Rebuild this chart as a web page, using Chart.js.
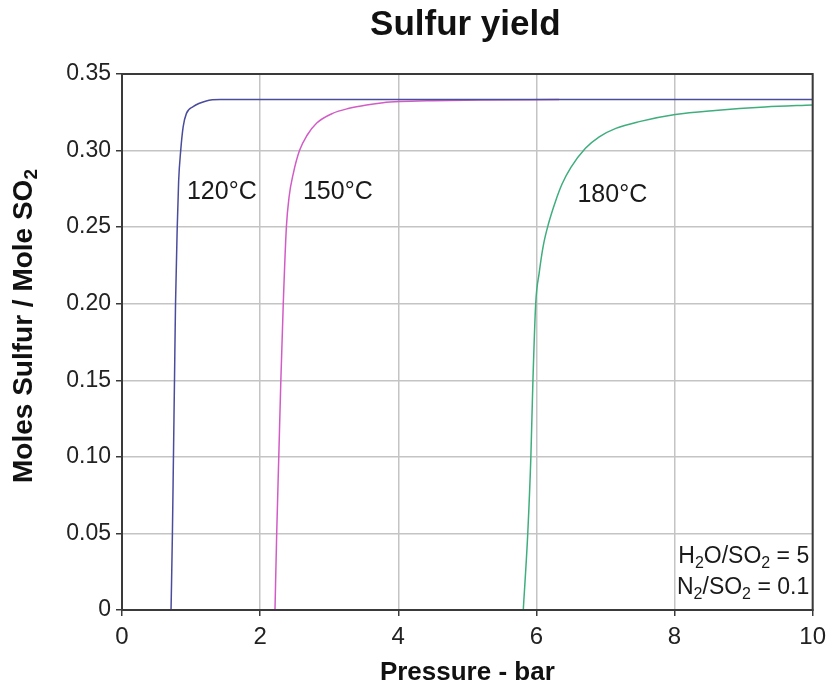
<!DOCTYPE html>
<html>
<head>
<meta charset="utf-8">
<script src="https://cdn.jsdelivr.net/npm/chart.js@4"></script>
<style>
  html, body { margin: 0; padding: 0; background: #fff; }
  #wrap { width: 833px; height: 688px; }
</style>
</head>
<body>
<div id="wrap"><canvas id="c" width="833" height="688"></canvas></div>
<script>
// données
const p120 = [0.71, 0.73, 0.745, 0.76, 0.775, 0.80, 0.82, 0.85, 0.886, 0.933, 1.03, 1.22, 1.42, 2, 4, 6, 8, 10];
const y120 = [0, 0.05, 0.10, 0.15, 0.20, 0.25, 0.28, 0.30, 0.3156, 0.3243, 0.3287, 0.3324, 0.3333, 0.3333, 0.3333, 0.3333, 0.3333, 0.3333];

const p150 = [2.215, 2.24, 2.27, 2.30, 2.335, 2.38, 2.42, 2.48, 2.57, 2.68, 2.82, 3.05, 3.29, 3.54, 3.78, 4.02, 4.5, 5.2, 6.33];
const y150 = [0, 0.05, 0.10, 0.15, 0.20, 0.25, 0.27, 0.285, 0.30, 0.31, 0.318, 0.3243, 0.3276, 0.3298, 0.3313, 0.332, 0.3326, 0.3331, 0.3333];

const p180 = [5.81, 5.875, 5.92, 5.95, 5.99, 6.04, 6.10, 6.18, 6.27, 6.37, 6.50, 6.71, 6.91, 7.15, 7.49, 8.01, 8.59, 9.31, 10];
const y180 = [0, 0.05, 0.10, 0.15, 0.20, 0.22, 0.238, 0.253, 0.266, 0.278, 0.289, 0.3015, 0.309, 0.3145, 0.3189, 0.3235, 0.3262, 0.3285, 0.3298];

const curveLabels = ["120°C", "150°C", "180°C"];
const curveLabelX = [0.94, 2.62, 6.594];
const curveLabelY = [0.273, 0.273, 0.271];

const FONT = "'Liberation Sans', Arial, sans-serif";

function pts(xs, ys) {
  return xs.map((x, i) => ({ x: x, y: ys[i] }));
}

// texte avec indices (segments [texte, estIndice])
function drawRich(ctx, segs, x, y, size, bold, align) {
  const big = (bold ? "bold " : "") + size + "px " + FONT;
  const small = (bold ? "bold " : "") + Math.round(size * 0.68) + "px " + FONT;
  let total = 0;
  segs.forEach(s => { ctx.font = s[1] ? small : big; total += ctx.measureText(s[0]).width; });
  let cx = align === "right" ? x - total : align === "center" ? x - total / 2 : x;
  ctx.textAlign = "left";
  ctx.textBaseline = "middle";
  segs.forEach(s => {
    ctx.font = s[1] ? small : big;
    ctx.fillText(s[0], cx, s[1] ? y + size * 0.28 : y);
    cx += ctx.measureText(s[0]).width;
  });
}

const decor = {
  id: "decor",
  afterDraw(chart) {
    const ctx = chart.ctx;
    const a = chart.chartArea;
    const xs = chart.scales.x, ys = chart.scales.y;
    ctx.save();
    // cadre
    ctx.strokeStyle = "#3a3a3a";
    ctx.lineWidth = 2;
    ctx.strokeRect(a.left, a.top, a.right - a.left, a.bottom - a.top);

    // titre
    ctx.fillStyle = "#111";
    ctx.font = "bold 35px " + FONT;
    ctx.textAlign = "center";
    ctx.textBaseline = "middle";
    ctx.fillText("Sulfur yield", (a.left + a.right) / 2 - 2, 25);

    ctx.fillStyle = "#1a1a1a";
    // étiquettes des courbes
    ctx.font = "25px " + FONT;
    ctx.textAlign = "left";
    curveLabels.forEach((t, i) => {
      ctx.fillText(t, xs.getPixelForValue(curveLabelX[i]), ys.getPixelForValue(curveLabelY[i]));
    });

    // conditions
    drawRich(ctx, [["H", 0], ["2", 1], ["O/SO", 0], ["2", 1], [" = 5", 0]],
      xs.getPixelForValue(9.95), ys.getPixelForValue(0.0348), 23, false, "right");
    drawRich(ctx, [["N", 0], ["2", 1], ["/SO", 0], ["2", 1], [" = 0.1", 0]],
      xs.getPixelForValue(9.95), ys.getPixelForValue(0.0144), 23, false, "right");

    // titre de l'axe Y
    ctx.translate(24, 326);
    ctx.rotate(-Math.PI / 2);
    ctx.fillStyle = "#111";
    drawRich(ctx, [["Moles Sulfur / Mole SO", 0], ["2", 1]], 0, 0, 28, true, "center");
    ctx.restore();
  }
};

new Chart(document.getElementById("c"), {
  type: "line",
  data: {
    datasets: [
      { data: pts(p120, y120), borderColor: "#4a4c9c", borderWidth: 1.5 },
      { data: pts(p150, y150), borderColor: "#d25cc6", borderWidth: 1.5 },
      { data: pts(p180, y180), borderColor: "#3fae7d", borderWidth: 1.5 }
    ]
  },
  options: {
    responsive: false,
    animation: false,
    events: [],
    elements: { point: { radius: 0 }, line: { cubicInterpolationMode: "monotone" } },
    layout: { padding: { left: 0, right: 19, top: 74, bottom: 0 } },
    plugins: {
      legend: { display: false },
      tooltip: { enabled: false }
    },
    scales: {
      x: {
        type: "linear",
        min: 0, max: 10,
        ticks: { stepSize: 2, color: "#222", font: { family: FONT, size: 24 }, padding: 7, maxRotation: 0 },
        grid: { color: "#c4c4c4", lineWidth: 1.5, tickLength: 6, tickColor: "#3a3a3a" },
        border: { color: "#3a3a3a", width: 2 },
        title: {
          display: true, text: "Pressure - bar", color: "#111",
          font: { family: FONT, size: 26, weight: "bold" }, padding: { top: 0, bottom: 0 }
        },
        afterFit(s) { s.height = 78; }
      },
      y: {
        min: 0, max: 0.35,
        ticks: {
          stepSize: 0.05, color: "#222", font: { family: FONT, size: 23 }, padding: 5,
          callback: v => (v === 0 ? "0" : v.toFixed(2))
        },
        grid: { color: "#c4c4c4", lineWidth: 1.5, tickLength: 6, tickColor: "#3a3a3a" },
        border: { color: "#3a3a3a", width: 2 },
        afterFit(s) { s.width = 122; }
      }
    }
  },
  plugins: [decor]
});
</script>
</body>
</html>
